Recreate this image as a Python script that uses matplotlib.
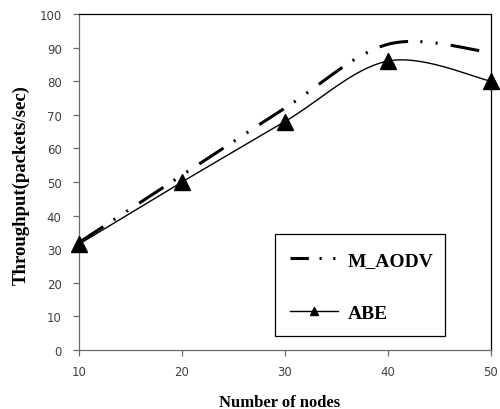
import numpy as np
import matplotlib
matplotlib.use("Agg")
import matplotlib.pyplot as plt
from matplotlib.lines import Line2D
from matplotlib.patches import Rectangle

nodes = [10, 20, 30, 40, 50]
m_aodv = [32, 52, 72, 91, 88.5]
abe = [31.5, 50, 68, 86, 80]
x_label = "Number of nodes"
y_label = "Throughput(packets/sec)"
series_names = ["M_AODV", "ABE"]


def smooth(xs, ys, n=40):
    """Excel-style smoothed line (Catmull-Rom / cubic Bezier) through the points."""
    xs = np.asarray(xs, float)
    ys = np.asarray(ys, float)
    px = np.concatenate([[xs[0]], xs, [xs[-1]]])
    py = np.concatenate([[ys[0]], ys, [ys[-1]]])
    ox, oy = [], []
    for i in range(1, len(px) - 2):
        p0 = np.array([px[i - 1], py[i - 1]])
        p1 = np.array([px[i], py[i]])
        p2 = np.array([px[i + 1], py[i + 1]])
        p3 = np.array([px[i + 2], py[i + 2]])
        c1 = p1 + (p2 - p0) / 6.0
        c2 = p2 - (p3 - p1) / 6.0
        t = np.linspace(0, 1, n)[:, None]
        b = ((1 - t) ** 3) * p1 + 3 * ((1 - t) ** 2) * t * c1 + 3 * (1 - t) * t ** 2 * c2 + t ** 3 * p2
        ox.extend(b[:, 0])
        oy.extend(b[:, 1])
    return np.array(ox), np.array(oy)


fig = plt.figure(figsize=(5, 4.1), dpi=100)
ax = fig.add_axes([79 / 500, 59 / 410, 412 / 500, 336 / 410])

dash = (0, (9.5, 4.0, 0.7, 4.3, 0.7, 4.3))

sx, sy = smooth(nodes, m_aodv)
ax.plot(sx, sy, color="black", lw=2.2, linestyle=dash, dash_capstyle="butt", zorder=3)

sx2, sy2 = smooth(nodes, abe)
ax.plot(sx2, sy2, color="black", lw=1.0, zorder=3)
ax.plot(nodes, abe, linestyle="none", marker="^", markersize=11, color="black",
        clip_on=False, zorder=4)

ax.set_xlim(10, 50)
ax.set_ylim(0, 100)
ax.set_xticks(nodes)
ax.set_yticks(np.arange(0, 101, 10))

for s in ["left", "bottom"]:
    ax.spines[s].set_color("#6a6a6a")
    ax.spines[s].set_linewidth(0.9)
for s in ["top", "right"]:
    ax.spines[s].set_color("black")
    ax.spines[s].set_linewidth(0.9)

ax.tick_params(axis="both", direction="out", length=4.5, width=0.9, color="#6a6a6a",
               labelsize=8.5, labelcolor="#404040")
ax.tick_params(axis="y", pad=8)
ax.tick_params(axis="x", pad=6)

fig.text(21 / 500, 1 - 185 / 410, y_label, rotation=90, ha="center", va="center",
         family="Liberation Serif", fontweight="bold", fontsize=13.5)
fig.text(280 / 500, 1 - 395 / 410, x_label, ha="center", va="top",
         family="Liberation Serif", fontweight="bold", fontsize=12)

# legend frame
fig.add_artist(Rectangle((275 / 500, 1 - 337 / 410), 170 / 500, 102 / 410,
                         transform=fig.transFigure, facecolor="white",
                         edgecolor="black", lw=0.9, zorder=5))

h1 = Line2D([], [], color="black", lw=2.2, linestyle=(0, (6.0, 3.5, 0.7, 3.8, 0.7, 3.0)),
            dash_capstyle="butt")
h2 = Line2D([], [], color="black", lw=1.0, marker="^", markersize=6)
leg = fig.legend([h1, h2], series_names, loc="upper left",
                 bbox_to_anchor=(290 / 500, 1 - 252 / 410), bbox_transform=fig.transFigure,
                 prop={"family": "Liberation Serif", "weight": "bold", "size": 14},
                 frameon=False, handlelength=2.45, handletextpad=0.5, labelspacing=1.85,
                 borderpad=0, borderaxespad=0)
leg.set_zorder(6)

fig.savefig("out.png", dpi=100)
